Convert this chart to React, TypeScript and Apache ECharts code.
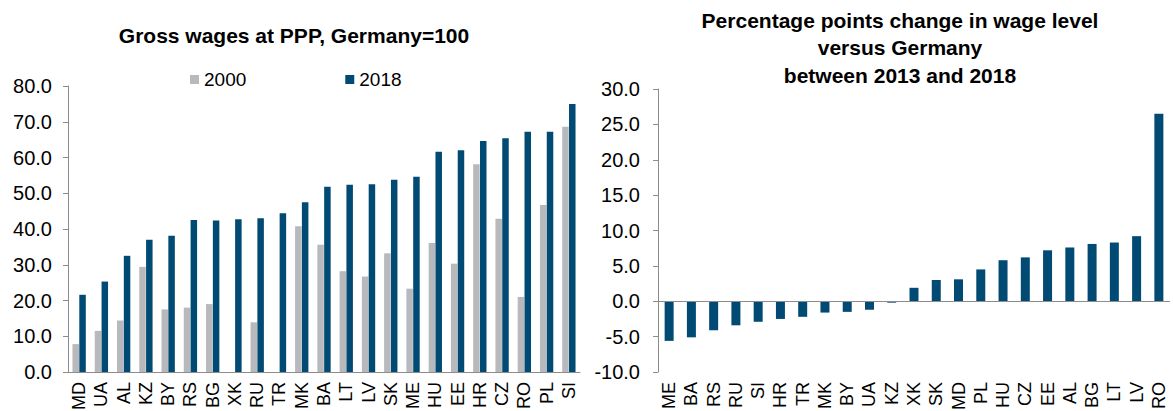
import React, { useEffect, useRef } from "react";
import * as echarts from "echarts";

const leftCategories = ["MD","UA","AL","KZ","BY","RS","BG","XK","RU","TR","MK","BA","LT","LV","SK","ME","HU","EE","HR","CZ","RO","PL","SI"];
const wages2000 = [7.8,11.5,14.4,29.4,17.5,18.0,19.0,null,13.9,null,40.8,35.6,28.2,26.7,33.2,23.3,36.1,30.3,58.1,42.9,21.0,46.7,68.6];
const wages2018 = [21.6,25.3,32.5,37.0,38.1,42.5,42.4,42.7,43.0,44.4,47.5,51.8,52.4,52.5,53.8,54.6,61.6,62.0,64.6,65.4,67.2,67.2,75.0];

const rightCategories = ["ME","BA","RS","RU","SI","HR","TR","MK","BY","UA","KZ","XK","SK","MD","PL","HU","CZ","EE","AL","BG","LT","LV","RO"];
const pointChange = [-5.6,-5.1,-4.1,-3.4,-2.9,-2.5,-2.2,-1.6,-1.5,-1.2,-0.2,1.9,3.0,3.1,4.5,5.8,6.2,7.2,7.6,8.1,8.3,9.2,26.5];

const leftTitle = "Gross wages at PPP, Germany=100";
const rightTitleLines = ["Percentage points change in wage level", "versus Germany", "between 2013 and 2018"];
const seriesNames = ["2000", "2018"];

const BLUE = "#004a74";
const GRAY = "#b8b9bc";
const AXIS = "#8c8c8c";
const FONT = "Liberation Sans";

export default function App() {
  const ref = useRef<HTMLDivElement>(null);
  useEffect(() => {
    if (!ref.current) return;
    const chart = echarts.init(ref.current, null, { renderer: "svg" });
    const labelStyle = { fontFamily: FONT, fontSize: 20, color: "#000" };
    const yAxisCommon = {
      type: "value" as const,
      axisLine: { show: true, lineStyle: { color: AXIS, width: 1 } },
      axisTick: { show: true, length: 5, lineStyle: { color: AXIS } },
      splitLine: { show: false },
    };
    const xAxisCommon = {
      type: "category" as const,
      axisTick: { show: false },
      axisLabel: { ...labelStyle, fontSize: 18, rotate: 90, margin: 10, interval: 0 },
    };
    chart.setOption({
      animation: false,
      textStyle: { fontFamily: FONT },
      graphic: [
        {
          type: "text",
          x: 294,
          y: 35,
          style: {
            text: leftTitle,
            fill: "#000",
            font: `bold 21px "${FONT}"`,
            textAlign: "center",
            textVerticalAlign: "middle",
          },
        },
        ...rightTitleLines.map((t, i) => ({
          type: "text",
          x: 900,
          y: 20 + i * 27.5,
          style: {
            text: t,
            fill: "#000",
            font: `bold 21px "${FONT}"`,
            textAlign: "center",
            textVerticalAlign: "middle",
          },
        })),
      ],
      legend: {
        data: seriesNames,
        left: 190,
        top: 70,
        padding: 0,
        itemWidth: 9,
        itemHeight: 9,
        itemGap: 99,
        icon: "rect",
        textStyle: { fontFamily: FONT, fontSize: 19, color: "#000" },
      },
      grid: [
        { left: 68, right: 593, top: 86, bottom: 39, containLabel: false, outerBoundsMode: "none" },
        { left: 658, right: 3, top: 89, bottom: 39, containLabel: false, outerBoundsMode: "none" },
      ],
      xAxis: [
        {
          ...xAxisCommon,
          gridIndex: 0,
          data: leftCategories,
          axisLine: { show: true, lineStyle: { color: AXIS, width: 1 } },
        },
        {
          ...xAxisCommon,
          gridIndex: 1,
          data: rightCategories,
          axisLine: { show: false },
        },
      ],
      yAxis: [
        {
          ...yAxisCommon,
          gridIndex: 0,
          min: 0,
          max: 80,
          interval: 10,
          axisLabel: { ...labelStyle, margin: 16, formatter: (v: number) => v.toFixed(1) },
        },
        {
          ...yAxisCommon,
          gridIndex: 1,
          min: -10,
          max: 30,
          interval: 5,
          axisLabel: { ...labelStyle, margin: 18, formatter: (v: number) => v.toFixed(1) },
        },
      ],
      series: [
        {
          name: seriesNames[0],
          type: "bar",
          xAxisIndex: 0,
          yAxisIndex: 0,
          data: wages2000,
          barWidth: 6.5,
          barGap: "5%",
          itemStyle: { color: GRAY },
        },
        {
          name: seriesNames[1],
          type: "bar",
          xAxisIndex: 0,
          yAxisIndex: 0,
          data: wages2018,
          barWidth: 6.5,
          barGap: "5%",
          itemStyle: { color: BLUE },
        },
        {
          name: "change",
          type: "bar",
          xAxisIndex: 1,
          yAxisIndex: 1,
          data: pointChange,
          barWidth: 9,
          itemStyle: { color: BLUE },
          markLine: {
            silent: true,
            symbol: "none",
            label: { show: false },
            lineStyle: { color: AXIS, width: 1, type: "solid" },
            data: [{ yAxis: 0 }],
          },
        },
      ],
    });
    return () => chart.dispose();
  }, []);
  return (
    <div
      ref={ref}
      style={{ position: "fixed", left: 0, top: 0, width: 1173, height: 411, background: "#fff" }}
    />
  );
}
